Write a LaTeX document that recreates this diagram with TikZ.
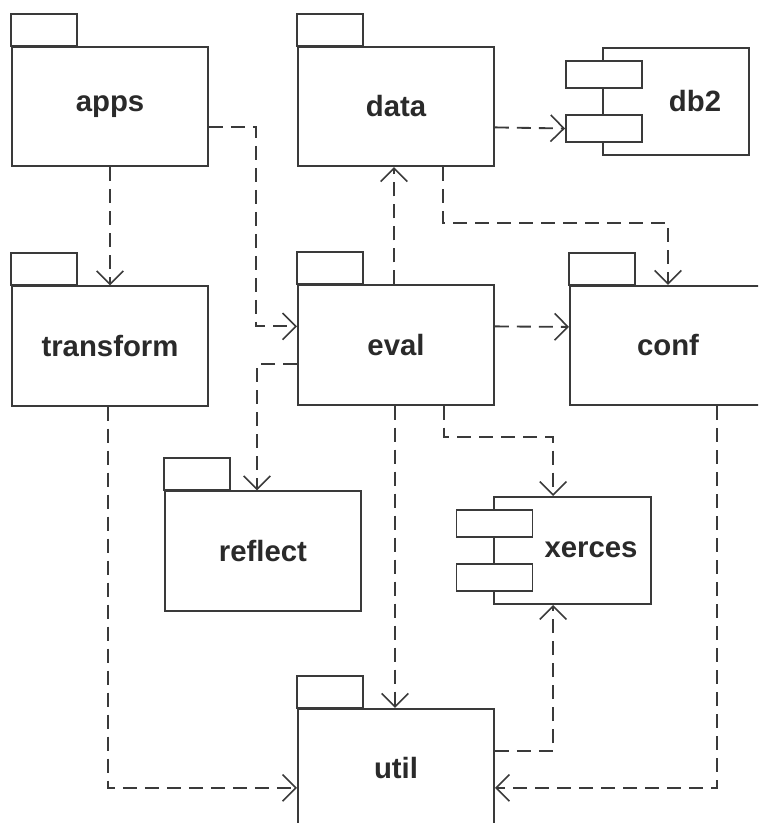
\documentclass[tikz,border=0pt]{standalone}
\usepackage{fontspec}
\setmainfont{Liberation Sans}
\usetikzlibrary{arrows.meta,calc}
\definecolor{ink}{HTML}{3A3A3A}
\definecolor{txt}{HTML}{2A2A2A}
\tikzset{
  boxline/.style={draw=ink, line width=1.4pt},
  pkg/.style={boxline, rectangle, inner sep=0pt, fill=white,
    minimum width=147pt, minimum height=89.5pt,
    text=txt, font=\bfseries\fontsize{22}{26}\selectfont},
  comp/.style={boxline, rectangle, inner sep=0pt, fill=white},
  port/.style={boxline, rectangle, inner sep=0pt, fill=white,
    minimum width=57pt, minimum height=20.25pt},
  lbl/.style={text=txt, font=\bfseries\fontsize{22}{26}\selectfont},
  dep/.style={draw=ink, line width=1.4pt, dash pattern=on 10.5pt off 6pt,
    -{Straight Barb[length=10pt,width=20pt,line width=1.2pt]}},
}
\begin{document}
\begin{tikzpicture}[x=0.75pt,y=-0.75pt]
\useasboundingbox (0,0) rectangle (758,823);
\clip (0,0) rectangle (758,823);

% packages: body node plus a tab on its upper left corner
\node[pkg] (apps) at (110,106.5) {apps};
\node[pkg] (data) at (396,106.5) {data};
\node[pkg] (transform) at (110,346) {transform};
\node[pkg] (eval) at (396,345) {eval};
\node[pkg] (conf) at (668,345.5) {conf};
\node[pkg] (reflect) at (263,551) {reflect};
\node[pkg] (util) at (396,768.5) {util};
\foreach \p in {apps,data,transform,eval,conf,reflect,util}
  \draw[boxline] (\p.north west) rectangle ++(66,-32);

% components: body with two ports on the left edge
\node[comp, minimum width=109.5pt, minimum height=80.25pt] (db2) at (676,101.5) {};
\node[port] (db2a) at (604,74.5) {};
\node[port] (db2b) at (604,128.5) {};
\node[lbl] at (695,101) {db2};

\node[comp, minimum width=117.75pt, minimum height=80.25pt] (xer) at (572.5,550.5) {};
\node[port] (xera) at (494.5,523.5) {};
\node[port] (xerb) at (494.5,577.5) {};
\node[lbl] at (591,550) {xerces};

% dependencies
\draw[dep] (apps.south) -- (transform.north);
\draw[dep] ($(apps.north east)+(0,81)$) -| ($(eval.north west)+(-41,42)$) -- ($(eval.north west)+(0,42)$);
\draw[dep] ($(eval.north west)+(97,0)$) -- ($(data.south west)+(97,0)$);
\draw[dep] ($(data.north east)+(0,81.5)$) -- (db2b.west);
\draw[dep] ($(data.south west)+(146,0)$) |- ($(conf.north)+(0,-62)$) -- (conf.north);
\draw[dep] ($(eval.north east)+(0,42)$) -- ($(conf.north west)+(0,42)$);
\draw[dep] ($(eval.north west)+(0,80)$) -| ($(reflect.north west)+(93,0)$);
\draw[dep] ($(eval.south west)+(98,0)$) -- ($(util.north west)+(98,0)$);
\draw[dep] ($(eval.south west)+(147,0)$) -- ++(0,31) -| ($(xer.north west)+(60,0)$);
\draw[dep] ($(util.north east)+(0,43)$) -| ($(xer.south west)+(60,0)$);
\draw[dep] ($(transform.south west)+(97,0)$) |- ($(util.north west)+(0,80)$);
\draw[dep] ($(conf.south west)+(148,0)$) |- ($(util.north east)+(0,80)$);
\end{tikzpicture}
\end{document}
